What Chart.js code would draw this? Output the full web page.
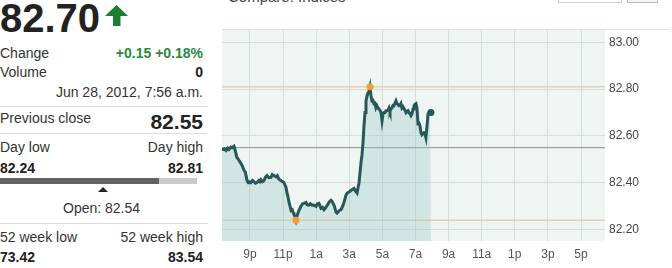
<!DOCTYPE html>
<html>
<head>
<meta charset="utf-8">
<script src="https://cdn.jsdelivr.net/npm/chart.js@4.4.1/dist/chart.umd.min.js"></script>
<style>
    html, body { margin: 0; padding: 0; background: #fff; }
    body { width: 672px; height: 268px; position: relative; overflow: hidden; font-family: Arial, "Liberation Sans", sans-serif; color: #333; }
    .abs { position: absolute; white-space: nowrap; }
    .row { font-size: 14px; line-height: 16px; }
    .right { left: 0; width: 203px; text-align: right; }
    .bold { font-weight: bold; color: #222; }
    .green { color: #2a8a3a; font-weight: bold; }
    .sep { position: absolute; left: 0; width: 208px; height: 1px; background: #dcdcdc; }
    #chartBox { position: absolute; left: 218px; top: 26px; width: 454px; height: 242px; }
</style>
</head>
<body>
    <!-- quote panel -->
    <div class="abs bold" style="left:0; top:-4px; font-size:40px; line-height:44px;">82.70</div>
    <svg class="abs" style="left:104px; top:4px;" width="26" height="23" viewBox="0 0 26 23">
        <polygon points="12.5,1 24,12 16.5,12 16.5,22 9,22 9,12 1,12" fill="#1b7f32"/>
    </svg>

    <div class="abs row" style="left:0; top:45px;">Change</div>
    <div class="abs row right green" style="top:45px;">+0.15 +0.18%</div>
    <div class="abs row" style="left:0; top:64px;">Volume</div>
    <div class="abs row right bold" style="top:64px;">0</div>
    <div class="abs row right" style="top:84px;">Jun 28, 2012, 7:56 a.m.</div>
    <div class="sep" style="top:106px;"></div>

    <div class="abs row" style="left:0; top:110px;">Previous close</div>
    <div class="abs right bold" style="top:110px; font-size:21px; line-height:24px;">82.55</div>
    <div class="sep" style="top:133px;"></div>

    <div class="abs row" style="left:0; top:139px;">Day low</div>
    <div class="abs row right" style="top:139px;">Day high</div>
    <div class="abs row bold" style="left:0; top:160px;">82.24</div>
    <div class="abs row right bold" style="top:160px;">82.81</div>
    <div class="abs" style="left:0; top:178px; width:159px; height:6px; background:#636363;"></div>
    <div class="abs" style="left:159px; top:178px; width:38px; height:6px; background:#cacaca;"></div>
    <div class="abs" style="left:98px; top:187px; width:0; height:0; border-left:5px solid transparent; border-right:5px solid transparent; border-bottom:5px solid #222;"></div>
    <div class="abs row" style="left:63px; top:200px;">Open: 82.54</div>
    <div class="sep" style="top:223px;"></div>

    <div class="abs row" style="left:0; top:229px;">52 week low</div>
    <div class="abs row right" style="top:229px;">52 week high</div>
    <div class="abs row bold" style="left:0; top:249px;">73.42</div>
    <div class="abs row right bold" style="top:249px;">83.54</div>

    <!-- header bits cut off by the viewport -->
    <div class="abs" style="left:228px; top:-11px; font-size:15px; line-height:16px; color:#444;">Compare: Indices</div>
    <div class="abs" style="left:558px; top:-20px; width:62px; height:21px; border:1px solid #cfcfcf;"></div>
    <div class="abs" style="left:627px; top:-20px; width:29px; height:21px; border:1px solid #bdbdbd; background:#f4f4f4;"></div>
    <div class="abs" style="left:222px; top:29px; width:448px; height:1px; background:#dde3e1;"></div>

    <div id="chartBox"><canvas id="priceChart"></canvas></div>

<script>
// intraday prices, hours counted from midnight of Jun 27 (24 = midnight, 31.93 = 7:56a)
const hours = [
    19.31, 19.45, 19.55, 19.65, 19.73, 19.85, 19.91, 20.03, 20.10, 20.21,
    20.30, 20.34, 20.46, 20.55, 20.64, 20.72, 20.82, 20.90, 20.94, 21.06,
    21.15, 21.24, 21.33, 21.42, 21.54, 21.60, 21.66, 21.75, 21.85, 21.95,
    22.03, 22.10, 22.15, 22.27, 22.35, 22.45, 22.57, 22.65, 22.75, 22.87,
    22.95, 23.05, 23.18, 23.24, 23.30, 23.36, 23.42, 23.48, 23.55, 23.60,
    23.66, 23.72, 23.78, 23.85, 23.96, 24.02, 24.08, 24.18, 24.26, 24.38,
    24.46, 24.56, 24.65, 24.75, 24.87, 24.99, 25.08, 25.17, 25.29, 25.38,
    25.47, 25.59, 25.68, 25.77, 25.89, 25.95, 26.03, 26.08, 26.20, 26.26,
    26.38, 26.50, 26.60, 26.68, 26.80, 26.86, 26.98, 27.10, 27.16, 27.28,
    27.40, 27.47, 27.53, 27.59, 27.65, 27.71, 27.77, 27.83, 27.89, 27.95,
    28.01, 28.07, 28.13, 28.19, 28.25, 28.31, 28.37, 28.43, 28.49, 28.55,
    28.61, 28.67, 28.73, 28.79, 28.85, 28.92, 28.98, 29.04, 29.10, 29.16,
    29.22, 29.28, 29.34, 29.40, 29.46, 29.52, 29.58, 29.64, 29.70, 29.76,
    29.82, 29.88, 29.94, 30.00, 30.06, 30.12, 30.18, 30.24, 30.31, 30.37,
    30.43, 30.49, 30.55, 30.61, 30.67, 30.73, 30.79, 30.85, 30.91, 30.97,
    31.03, 31.09, 31.15, 31.21, 31.27, 31.33, 31.39, 31.45, 31.51, 31.57,
    31.63, 31.68, 31.72, 31.76, 31.82, 31.88, 31.93
];
const prices = [
    82.540, 82.545, 82.538, 82.548, 82.542, 82.552, 82.550, 82.556, 82.540, 82.508,
    82.500, 82.495, 82.482, 82.470, 82.453, 82.445, 82.410, 82.400, 82.405, 82.401,
    82.410, 82.405, 82.398, 82.401, 82.410, 82.405, 82.413, 82.405, 82.410, 82.425,
    82.431, 82.425, 82.422, 82.423, 82.435, 82.431, 82.425, 82.430, 82.415, 82.410,
    82.405, 82.401, 82.380, 82.355, 82.340, 82.316, 82.300, 82.282, 82.285, 82.274,
    82.265, 82.255, 82.240, 82.260, 82.282, 82.290, 82.300, 82.310, 82.312, 82.316,
    82.305, 82.304, 82.310, 82.304, 82.305, 82.299, 82.310, 82.312, 82.291, 82.295,
    82.285, 82.295, 82.305, 82.316, 82.325, 82.322, 82.310, 82.304, 82.274, 82.270,
    82.280, 82.285, 82.300, 82.316, 82.346, 82.355, 82.360, 82.367, 82.370, 82.376,
    82.362, 82.356, 82.380, 82.400, 82.444, 82.487, 82.520, 82.572, 82.644, 82.700,
    82.750, 82.770, 82.784, 82.790, 82.810, 82.772, 82.750, 82.752, 82.738, 82.740,
    82.720, 82.729, 82.720, 82.716, 82.710, 82.700, 82.665, 82.695, 82.700, 82.700,
    82.708, 82.708, 82.710, 82.720, 82.705, 82.716, 82.720, 82.730, 82.729, 82.740,
    82.750, 82.738, 82.735, 82.729, 82.730, 82.738, 82.720, 82.725, 82.716, 82.710,
    82.700, 82.705, 82.708, 82.700, 82.695, 82.687, 82.695, 82.715, 82.729, 82.735,
    82.738, 82.720, 82.653, 82.655, 82.644, 82.614, 82.605, 82.610, 82.614, 82.610,
    82.593, 82.631, 82.660, 82.695, 82.700, 82.700, 82.700
];

const tickHours = [21, 23, 25, 27, 29, 31, 33, 35, 37, 39, 41];
const tickLabels = ['9p', '11p', '1a', '3a', '5a', '7a', '9a', '11a', '1p', '3p', '5p'];
const priceTicks = [82.20, 82.40, 82.60, 82.80, 83.00];

const prevClose = 82.55;
const dayHigh = 82.81;
const dayLow = 82.24;
const highHour = 28.25;
const lowHour = 23.78;

const xMin = 19.31, xMax = 42.45;
const yMin = 82.151, yMax = 83.053;

// light plot background behind everything
const plotBg = {
    id: 'plotBg',
    beforeDraw(chart) {
        const { ctx, chartArea: a } = chart;
        ctx.save();
        ctx.fillStyle = '#eef5f2';
        ctx.fillRect(a.left, a.top, a.right - a.left, a.bottom - a.top);
        ctx.restore();
    }
};

const hline = (y, color) => ({
    data: [{ x: xMin, y: y }, { x: xMax, y: y }],
    showLine: true,
    borderColor: color,
    borderWidth: 1,
    pointRadius: 0,
    fill: false,
});

// no extra room for overhanging labels, the plot fills the box
const noPad = s => { s.paddingTop = 0; s.paddingBottom = 0; s.paddingLeft = 0; s.paddingRight = 0; };

const series = hours.map((h, i) => ({ x: h, y: prices[i] }));
const last = series[series.length - 1];

new Chart(document.getElementById('priceChart').getContext('2d'), {
    type: 'scatter',
    data: {
        datasets: [
            { // last price dot
                data: [last],
                pointRadius: 3.5,
                pointBackgroundColor: '#27575a',
                pointBorderWidth: 0,
            },
            { // day high / low markers
                data: [{ x: highHour, y: dayHigh }, { x: lowHour, y: dayLow }],
                pointRadius: 3.5,
                pointBackgroundColor: '#f0a032',
                pointBorderWidth: 0,
            },
            {
                data: series,
                showLine: true,
                borderColor: '#27575a',
                borderWidth: 3,
                pointRadius: 0,
                tension: 0,
                fill: 'start',
                backgroundColor: 'rgba(150, 200, 196, 0.32)',
            },
            hline(prevClose, '#8a8f8d'),
            hline(dayHigh, '#f2b98a'),
            hline(dayLow, '#f2b98a'),
        ]
    },
    options: {
        responsive: true,
        maintainAspectRatio: false,
        animation: false,
        layout: { padding: 0 },
        plugins: { legend: { display: false }, tooltip: { enabled: false } },
        scales: {
            x: {
                type: 'linear',
                min: xMin,
                max: xMax,
                afterBuildTicks: s => { s.ticks = tickHours.map(v => ({ value: v })); },
                afterFit: s => { s.height = 27; noPad(s); },
                grid: { color: '#d5dedb', drawTicks: false },
                border: { display: false },
                ticks: {
                    autoSkip: false,
                    maxRotation: 0,
                    padding: 6,
                    color: '#555',
                    font: { family: 'Arial, "Liberation Sans"', size: 12 },
                    callback: (v, i) => tickLabels[i],
                }
            },
            y: {
                position: 'right',
                min: yMin,
                max: yMax,
                afterBuildTicks: s => { s.ticks = priceTicks.map(v => ({ value: v })); },
                afterFit: s => { s.width = 67; noPad(s); },
                grid: { color: '#d5dedb', drawTicks: false },
                border: { display: false },
                ticks: {
                    padding: 4,
                    color: '#444',
                    font: { family: 'Arial, "Liberation Sans"', size: 12 },
                    callback: v => v.toFixed(2),
                }
            }
        }
    },
    plugins: [plotBg]
});
</script>
</body>
</html>
